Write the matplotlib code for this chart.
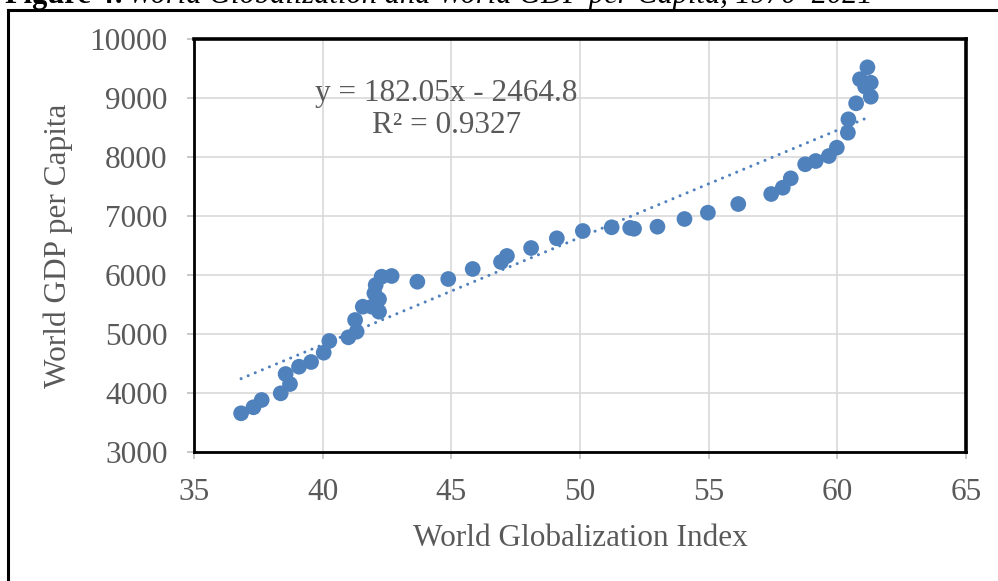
import numpy as np
import matplotlib
matplotlib.use("Agg")
import matplotlib.pyplot as plt
from matplotlib.lines import Line2D

# World Globalization Index vs World GDP per capita, 1970-2021
glob_index = [36.83, 37.31, 37.63, 38.37, 38.56, 38.73, 39.08, 39.55, 40.04, 40.26,
              41.00, 41.32, 41.26, 41.56, 41.91, 42.19, 42.19, 42.01, 42.06, 42.29,
              42.68, 43.68, 44.88, 45.83, 46.93, 47.16, 48.10, 49.10, 50.11, 51.23,
              51.95, 52.10, 53.01, 54.06, 54.97, 56.15, 57.43, 57.88, 58.19, 58.75,
              59.16, 59.67, 59.98, 60.41, 60.43, 60.73, 60.88, 61.17, 61.08, 61.30,
              61.30]
gdp_pc = [3652, 3754, 3878, 3991, 4319, 4149, 4443, 4523, 4681, 4880,
          4942, 5038, 5236, 5462, 5462, 5377, 5588, 5690, 5830, 5971,
          5983, 5886, 5932, 6102, 6221, 6323, 6458, 6623, 6747, 6810,
          6800, 6785, 6820, 6951, 7058, 7205, 7375, 7482, 7641, 7880,
          7935, 8020, 8162, 8416, 8643, 8915, 9323, 9526, 9197, 9265,
          9027]

# trendline reported on the chart
slope = 182.05
intercept = -2464.8
r2 = 0.9327

x_ticks = [35, 40, 45, 50, 55, 60, 65]
y_ticks = [3000, 4000, 5000, 6000, 7000, 8000, 9000, 10000]

blue = "#4f81bd"
grey_text = "#595959"

plt.rcParams['font.family'] = ['Liberation Serif', 'DejaVu Serif']

fig = plt.figure(figsize=(9.98, 5.81), dpi=100)
ax = fig.add_axes([194 / 998, 1 - 451.7 / 581, (966 - 194) / 998, (451.7 - 39.4) / 581])

ax.scatter(glob_index, gdp_pc, s=128, color=blue, edgecolors='none', zorder=3)

xs = np.array([min(glob_index), max(glob_index)])
ax.plot(xs, slope * xs + intercept, color=blue, lw=2.2,
        linestyle=(0, (0.01, 2.5)), dash_capstyle='round', zorder=2)

ax.set_xlim(35, 65)
ax.set_ylim(3000, 10000)
ax.set_xticks(x_ticks)
ax.set_yticks(y_ticks)
ax.grid(True, color='#d9d9d9', lw=1.2, zorder=0)
ax.set_axisbelow(True)

ax.tick_params(axis='both', length=5, width=1.2, color='#bfbfbf', pad=14,
               labelsize=22.5, labelcolor=grey_text)

for side in ['top', 'right']:
    ax.spines[side].set_linewidth(2.6)
for side in ['left', 'bottom']:
    ax.spines[side].set_linewidth(2.0)
for sp in ax.spines.values():
    sp.set_color('black')

ax.set_xlabel("World Globalization Index", fontsize=22.5, color=grey_text, labelpad=12)
ax.set_ylabel("World GDP per Capita", fontsize=22.5, color=grey_text, labelpad=12)

sign = '-' if intercept < 0 else '+'
ax.text(0.327, 0.868, f"y = {slope}x {sign} {abs(intercept)}", transform=ax.transAxes,
        ha='center', va='center', fontsize=22.5, color=grey_text)
ax.text(0.327, 0.79, f"R² = {r2}", transform=ax.transAxes,
        ha='center', va='center', fontsize=22.5, color=grey_text)

# outer frame (only top and left edges are inside the picture)
fig.add_artist(Line2D([8 / 998, 8 / 998], [0, 1 - 10 / 581], transform=fig.transFigure,
                      color='black', lw=2.2))
fig.add_artist(Line2D([8 / 998, 1], [1 - 10 / 581, 1 - 10 / 581], transform=fig.transFigure,
                      color='black', lw=2.2))

# figure caption, cut off at the top edge as in the source
t1 = fig.text(5 / 998, 1 - 3 / 581, "Figure 4:", fontsize=22, fontweight='bold',
              va='baseline', ha='left', color='black')
fig.canvas.draw()
bb = t1.get_window_extent(renderer=fig.canvas.get_renderer())
fig.text(bb.x1 / fig.bbox.width + 4 / 998, 1 - 3 / 581,
         "World Globalization and World GDP per Capita, 1970\u20132021",
         fontsize=22, fontstyle='italic', va='baseline', ha='left', color='black')

fig.savefig("out.png", dpi=100)
